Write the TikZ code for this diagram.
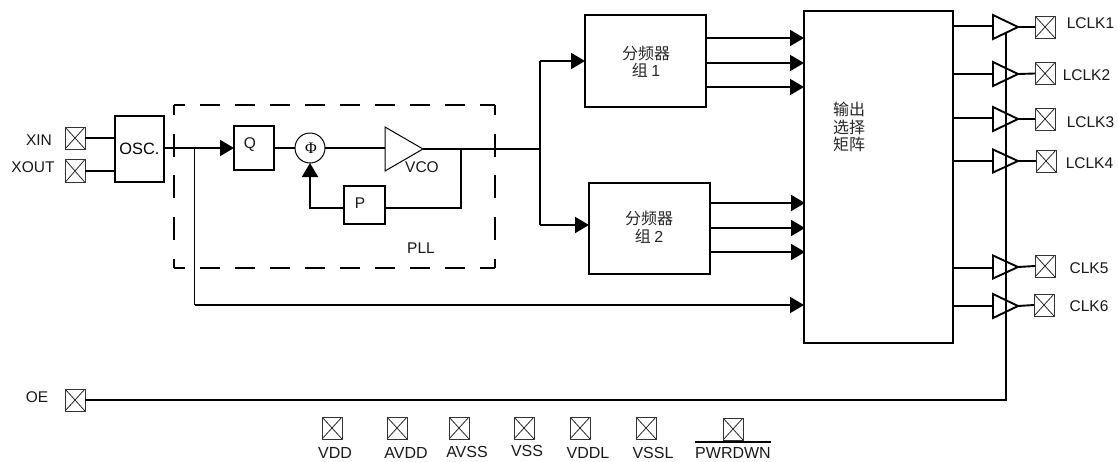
\documentclass[tikz,border=0pt]{standalone}
\usepackage{fontspec}
\setmainfont{Liberation Sans}
\newfontfamily\cjk{Noto Sans CJK SC}
\newfontfamily\phifont{Liberation Serif}
\usetikzlibrary{shapes.geometric,arrows.meta}
\tikzset{
  wire/.style={line width=1.9pt},
  arr/.style={wire,-{Triangle[length=14pt,width=16pt]}},
  blockbox/.style={draw,line width=1.9pt,inner sep=0pt,outer sep=0pt,align=center,anchor=north west},
  padbox/.style={draw=black!80,line width=1pt,inner sep=0pt,outer sep=0pt,minimum width=20pt,minimum height=22pt,
    path picture={\draw[line width=.8pt,black!85] (path picture bounding box.north west)--(path picture bounding box.south east)
      (path picture bounding box.north east)--(path picture bounding box.south west);}},
  buf/.style={draw,isosceles triangle,isosceles triangle stretches,line width=1.9pt,inner sep=0pt,outer sep=0pt,
    minimum width=24pt,minimum height=25pt,anchor=apex},
  lab/.style={inner sep=0pt,font=\fontsize{15.5}{17}\selectfont,text=black!90},
  blab/.style={inner sep=0pt,font=\fontsize{16}{18}\selectfont,text=black!90},
  cjklab/.style={inner sep=0pt,text=black!85,align=center,font=\cjk\fontsize{16}{17.5}\selectfont},
  pllline/.style={line width=1.9pt},
}
\begin{document}
\begin{tikzpicture}[x=1pt,y=-1pt]
\useasboundingbox (0,0) rectangle (1118,461);
% PLL frame
\coordinate (pa) at (174,105); \coordinate (pb) at (495,105);
\coordinate (pc) at (495,268); \coordinate (pd) at (174,268);
\draw[pllline,dash pattern=on 20pt off 15pt,dash phase=9pt] (pa)--(pb);
\draw[pllline,dash pattern=on 20pt off 15pt,dash phase=9pt] (pd)--(pc);
\draw[pllline,dash pattern=on 23pt off 18.7pt,dash phase=13pt] (pa)--(pd);
\draw[pllline,dash pattern=on 23pt off 18.7pt,dash phase=13pt] (pb)--(pc);
% blocks
\node[blockbox,minimum width=49pt,minimum height=66pt] (osc) at (115,116) {\fontsize{16.4}{18}\selectfont OSC.};
\node[blockbox,minimum width=40pt,minimum height=44pt] (q) at (234,126) {};
\node[circle,draw,line width=1pt,minimum size=30pt,inner sep=0pt,outer sep=0pt] (phi) at (310,148) {};
\node[inner sep=0pt] (phit) at (311,148) {\phifont\fontsize{16}{17}\selectfont Φ};
\node[blockbox,minimum width=41pt,minimum height=38pt] (p) at (344,186) {};
\node[lab] (qt) at (250,145) {Q};
\node[lab] (pt) at (360,203) {P};
\node[buf,line width=1pt,minimum width=44pt,minimum height=38pt] (vco) at (423,149) {};
\node[blockbox,minimum width=121pt,minimum height=92pt] (d1) at (585,15) {};
\node[blockbox,minimum width=121pt,minimum height=91pt] (d2) at (589,183) {};
\node[blockbox,minimum width=149pt,minimum height=332pt] (mx) at (804,11) {};
\node[cjklab] (d1t) at (646,61.5) {分频器\\组 {\normalfont 1}};
\node[cjklab] (d2t) at (649,227) {分频器\\组 {\normalfont 2}};
\node[cjklab] (mxt) at (849,127) {输出\\选择\\矩阵};
\node[lab] (vcot) at (422,167) {VCO};
\node[lab] (pllt) at (421,248) {PLL};
% input pads
\node[padbox,minimum height=22pt] (pxin) at (75,138) {};
\node[padbox,minimum height=23pt] (pxout) at (75,171) {};
\node[padbox] (poe) at (75,400) {};
\node[lab] (txin) at (39,140) {XIN};
\node[lab] (txout) at (33,167) {XOUT};
\node[lab] (toe) at (37,397) {OE};
\draw[wire] (pxin.east)--(pxin.east -| osc.west);
\draw[wire] (pxout.east)--(pxout.east -| osc.west);
% PLL wiring
\coordinate (oscout) at (164,148);
\coordinate (byp) at (194.5,148);
\coordinate (bypd) at (194.5,305);
\draw[arr] (oscout)--(oscout -| q.west);
\draw[wire] (byp)--(bypd);
\draw[arr] (bypd)--(bypd -| mx.west);
\draw[wire,line width=1.6pt] (q.east |- phi.west)--(phi.west);
\draw[wire,line width=1.6pt] (phi.east)--(phi.east -| vco.lower side);
\coordinate (fb) at (461,149);
\coordinate (fb2) at (461,208);
\coordinate (split) at (540,149);
\draw[wire] (vco.apex)--(split);
\draw[wire] (fb)--(fb2)--(fb2 -| p.east);
\draw[arr] (p.west |- fb2) -| (phi.south);
% dividers
\coordinate (up) at (540,61); \coordinate (dn) at (540,225);
\draw[wire] (up)--(dn);
\draw[arr] (up)--(up -| d1.west);
\draw[arr] (dn)--(dn -| d2.west);
\foreach \y in {38,63,87} {
  \draw[arr] (d1.east |- 0,\y)--(mx.west |- 0,\y);
}
\foreach \y in {203,228,252} {
  \draw[arr] (d2.east |- 0,\y)--(805,\y);
}
% output buffers
\node[buf] (b1) at (1018,27) {};
\node[buf] (b2) at (1018,74) {};
\node[buf] (b3) at (1018,119) {};
\node[buf,minimum width=23pt] (b4) at (1018,161) {};
\node[buf,minimum width=23pt] (b5) at (1018,267) {};
\node[buf] (b6) at (1018,306) {};
\node[padbox] (o1) at (1045,27) {};
\node[padbox] (o2) at (1045,73.5) {};
\node[padbox] (o3) at (1045,119) {};
\node[padbox] (o4) at (1046,161) {};
\node[padbox] (o5) at (1045,266) {};
\node[padbox] (o6) at (1044,305) {};
\node[lab] (l1) at (1090.5,23) {LCLK1};
\node[lab] (l2) at (1086.5,75) {LCLK2};
\node[lab] (l3) at (1090.5,122) {LCLK3};
\node[lab] (l4) at (1089.5,163) {LCLK4};
\node[lab] (l5) at (1089,268) {CLK5};
\node[lab] (l6) at (1089,306) {CLK6};
\foreach \i/\y in {1/26,2/74,3/118,4/161,5/268,6/306} {
  \draw[wire] (mx.east |- 0,\y)--(b\i.west |- 0,\y);
  \draw[wire] (b\i.apex)--(o\i.west);
}
\coordinate (oeup) at (1006,33);
\coordinate (oedn) at (1006,400);
\draw[wire] (oeup)--(oedn)--(poe.east);
% power pads
\node[padbox] (v1) at (332,428) {};
\node[padbox] (v2) at (397,428) {};
\node[padbox] (v3) at (459,428) {};
\node[padbox] (v4) at (524,428) {};
\node[padbox] (v5) at (580,428) {};
\node[padbox] (v6) at (646,428) {};
\node[padbox] (v7) at (733,429) {};
\node[blab] (t1) at (335,453) {VDD};
\node[blab] (t2) at (406,453) {AVDD};
\node[blab] (t3) at (467,452) {AVSS};
\node[blab] (t4) at (527,451) {VSS};
\node[blab] (t5) at (588,453) {VDDL};
\node[blab] (t6) at (653,453) {VSSL};
\node[blab] (t7) at (733,453) {PWRDWN};
\draw[wire] (t7.west |- 0,442)--(t7.east |- 0,442);
\end{tikzpicture}
\end{document}
